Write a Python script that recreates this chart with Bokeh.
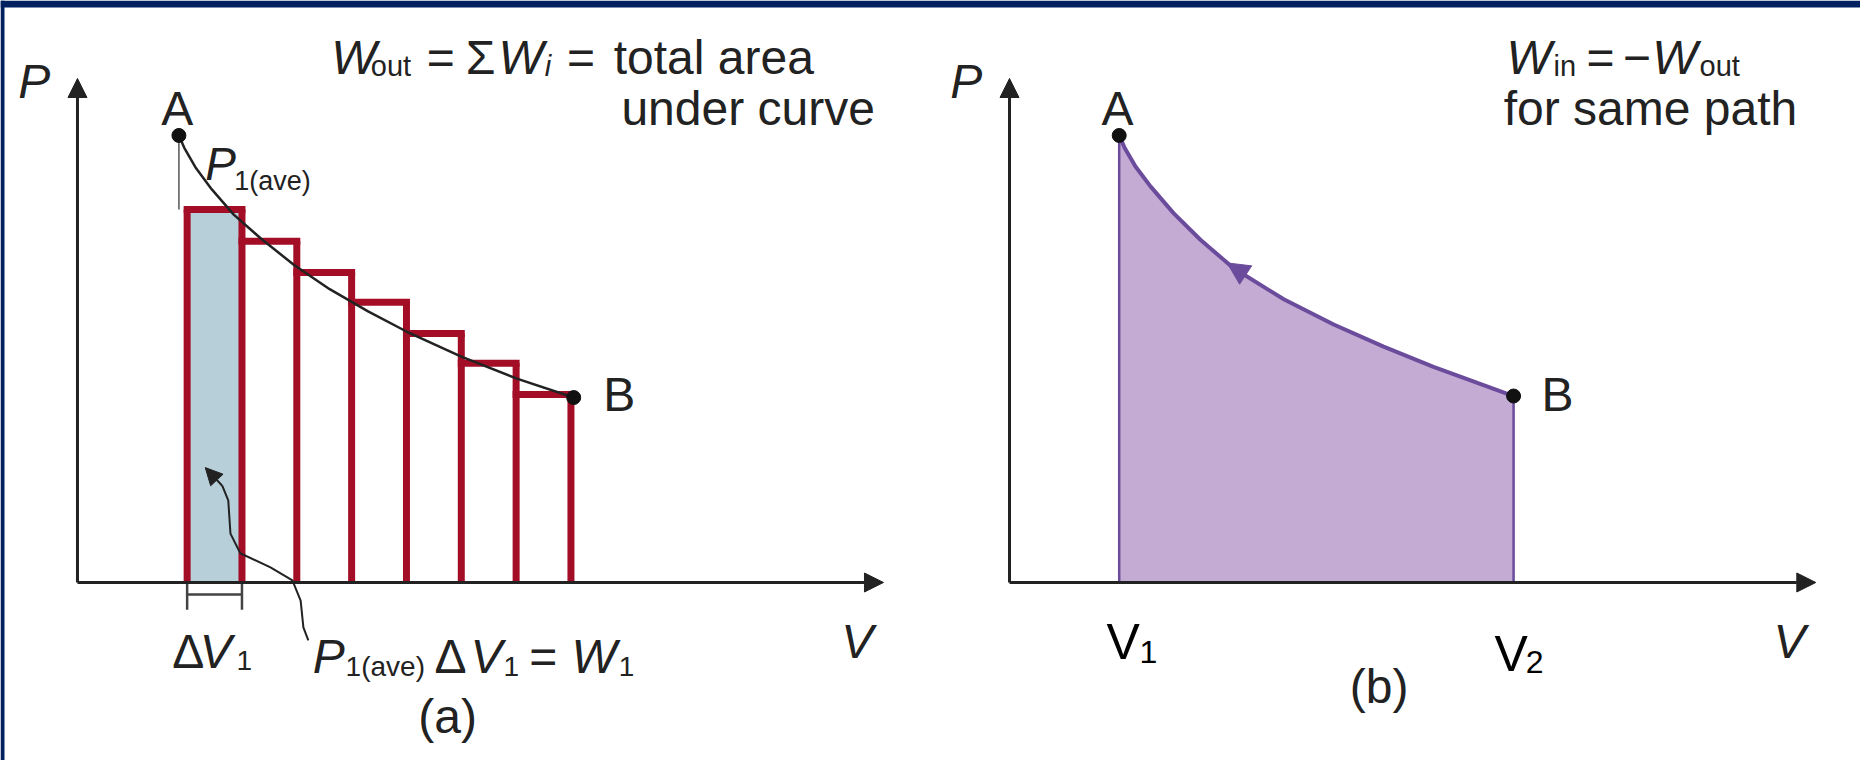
from bokeh.plotting import figure
from bokeh.models import Arrow, NormalHead, Range1d
from bokeh.core.properties import value
from bokeh.embed import file_html
from bokeh.resources import INLINE

# ---------------- data (panel a) ----------------
a_curve_V = [1.85, 1.95, 2.15, 2.45, 2.85, 3.35, 3.95, 4.60, 5.30, 6.00, 7.00, 8.00, 9.05]
a_curve_P = [8.87, 8.62, 8.24, 7.80, 7.30, 6.82, 6.30, 5.82, 5.38, 4.98, 4.48, 4.05, 3.67]
a_edges = [2, 3, 4, 5, 6, 7, 8, 9]
a_tops = [7.40, 6.77, 6.15, 5.56, 4.94, 4.35, 3.73]
a_pointA = (1.85, 8.87)
a_pointB = (9.05, 3.67)
a_pointer_V = [4.21, 4.12, 4.07, 3.92, 3.52, 2.97, 2.79, 2.75, 2.64]
a_pointer_P = [-1.15, -0.89, -0.36, 0.04, 0.30, 0.58, 0.97, 1.63, 1.92]
a_pointer_tip = (2.33, 2.28)

# ---------------- data (panel b) ----------------
b_curve_V = [2.00, 2.10, 2.30, 2.57, 2.99, 3.48, 4.08, 5.00, 5.91, 6.82, 7.73, 8.53, 9.19]
b_curve_P = [8.87, 8.62, 8.25, 7.86, 7.33, 6.80, 6.24, 5.62, 5.12, 4.68, 4.28, 3.96, 3.70]
b_V1 = 2.00
b_V2 = 9.19
b_arrow_from = (4.60, 5.89)
b_arrow_to = (3.97, 6.34)

AXIS_V_END = 14.7
AXIS_P_END = 10.0

# text labels: (text, V, P, size px, italic, align)
a_labels = [
    ("P", -1.08, 9.94, 48, True, "left"),
    ("A", 1.82, 9.40, 48, False, "center"),
    ("B", 9.59, 3.73, 48, False, "left"),
    ("W", 4.63, 10.42, 48, True, "left"),
    ("out", 5.35, 10.24, 29, False, "left"),
    ("=", 6.37, 10.42, 48, False, "left"),
    ("\u03a3", 7.08, 10.42, 48, False, "left"),
    ("W", 7.68, 10.42, 48, True, "left"),
    ("i", 8.52, 10.24, 29, True, "left"),
    ("=", 8.93, 10.42, 48, False, "left"),
    ("total area", 9.78, 10.42, 48, False, "left"),
    ("under curve", 9.92, 9.40, 48, False, "left"),
    ("P", 2.33, 8.31, 46, True, "left"),
    ("1(ave)", 2.86, 7.96, 27, False, "left"),
    ("\u0394", 1.73, -1.37, 48, False, "left"),
    ("V", 2.23, -1.37, 48, True, "left"),
    ("1", 2.90, -1.55, 28, False, "left"),
    ("P", 4.29, -1.47, 48, True, "left"),
    ("1(ave)", 4.89, -1.67, 28, False, "left"),
    ("\u0394", 6.51, -1.47, 48, False, "left"),
    ("V", 7.17, -1.47, 48, True, "left"),
    ("1", 7.77, -1.67, 28, False, "left"),
    ("=", 8.24, -1.47, 48, False, "left"),
    ("W", 9.01, -1.47, 48, True, "left"),
    ("1", 9.87, -1.67, 28, False, "left"),
    ("V", 13.93, -1.17, 48, True, "left"),
    ("(a)", 6.75, -2.66, 48, False, "center"),
]
b_labels = [
    ("P", -1.08, 9.94, 48, True, "left"),
    ("A", 1.97, 9.40, 48, False, "center"),
    ("B", 9.70, 3.73, 48, False, "left"),
    ("W", 9.06, 10.42, 48, True, "left"),
    ("in", 9.92, 10.24, 29, False, "left"),
    ("=", 10.52, 10.42, 48, False, "left"),
    ("\u2212", 11.18, 10.42, 48, False, "left"),
    ("W", 11.72, 10.42, 48, True, "left"),
    ("out", 12.58, 10.24, 29, False, "left"),
    ("for same path", 9.01, 9.40, 48, False, "left"),
    ("V", 13.93, -1.17, 48, True, "left"),
    ("(b)", 6.74, -2.06, 48, False, "center"),
]
b_vlabels = [
    ("V", 1.77, -1.19, 50),
    ("1", 2.37, -1.37, 32),
    ("V", 8.84, -1.41, 50),
    ("2", 9.41, -1.57, 32),
]

FONT = "Liberation Sans"
INK = "#222222"
RED = "#a30d26"
BLUE = "#b7cfd8"
PURPLE_LINE = "#6b4c9c"
PURPLE_FILL = "#c4abd3"
NAVY = "#002060"

Y_RANGE = (-3.532, 11.548)
BAND_P = 11.409           # lower edge of the navy slide band
XA = (-1.404, 32.519)     # panel (a) volume axis across the whole canvas
XB = (-18.396, 15.515)    # panel (b) volume axis across the whole canvas

p = figure(width=1860, height=760, x_range=XA, y_range=Y_RANGE,
           output_backend="svg", toolbar_location=None,
           x_axis_location=None, y_axis_location=None, min_border=0,
           outline_line_color=None, background_fill_color="white",
           border_fill_color="white")
p.extra_x_ranges = {"b": Range1d(*XB)}
p.xgrid.visible = False
p.ygrid.visible = False

# slide frame: navy band on top, thin navy strip on the left
p.quad(left=[XA[0]], right=[XA[1]], bottom=[BAND_P], top=[Y_RANGE[1]],
       fill_color=NAVY, line_color=None)
p.quad(left=[XA[0]], right=[-1.331], bottom=[Y_RANGE[0]], top=[Y_RANGE[1]],
       fill_color=NAVY, line_color=None)


def axes(rn):
    for xe, ye in [(0, AXIS_P_END), (AXIS_V_END, 0)]:
        p.add_layout(Arrow(end=NormalHead(size=19, fill_color=INK, line_color=INK),
                           x_start=0, y_start=0, x_end=xe, y_end=ye,
                           line_width=3, line_color=INK, x_range_name=rn))


def put_labels(labels, rn):
    for txt, x, y, size, italic, align in labels:
        p.text(x=[x], y=[y], text=[txt], text_font=value(FONT),
               text_font_size=f"{size}px",
               text_font_style="italic" if italic else "normal",
               text_align=align, text_baseline="alphabetic", text_color=INK,
               x_range_name=rn)


# ---------------- panel a ----------------
p.quad(left=[a_edges[0]], right=[a_edges[1]], bottom=[0], top=[a_tops[0]],
       fill_color=BLUE, line_color=None)
vert_h = [a_tops[0]] + a_tops
p.segment(x0=a_edges, y0=[0] * len(a_edges), x1=a_edges, y1=vert_h,
          line_color=RED, line_width=7)
p.segment(x0=a_edges[:-1], y0=a_tops, x1=a_edges[1:], y1=a_tops,
          line_color=RED, line_width=7, line_cap="square")
p.segment(x0=[a_pointA[0]], y0=[a_pointA[1]], x1=[a_pointA[0]], y1=[a_tops[0]],
          line_color="#555555", line_width=1.5)
p.line(a_curve_V, a_curve_P, line_color=INK, line_width=2.5)
# delta V bracket
p.segment(x0=[a_edges[0], a_edges[1], a_edges[0]], y0=[0, 0, -0.24],
          x1=[a_edges[0], a_edges[1], a_edges[1]], y1=[-0.54, -0.54, -0.24],
          line_color="#444444", line_width=2.5)
# pointer from the formula to the shaded strip
p.line(a_pointer_V, a_pointer_P, line_color=INK, line_width=2)
p.add_layout(Arrow(end=NormalHead(size=17, fill_color=INK, line_color=INK),
                   x_start=a_pointer_V[-1], y_start=a_pointer_P[-1],
                   x_end=a_pointer_tip[0], y_end=a_pointer_tip[1],
                   line_width=2, line_color=INK))
axes("default")
p.scatter([a_pointA[0], a_pointB[0]], [a_pointA[1], a_pointB[1]], size=14,
          color="#111111")
put_labels(a_labels, "default")

# ---------------- panel b ----------------
p.patch([b_V1] + b_curve_V + [b_V2], [0] + b_curve_P + [0],
        fill_color=PURPLE_FILL, line_color=None, x_range_name="b")
p.segment(x0=[b_V1, b_V2], y0=[0, 0], x1=[b_V1, b_V2],
          y1=[b_curve_P[0], b_curve_P[-1]], line_color=PURPLE_LINE, line_width=2.5,
          x_range_name="b")
p.line(b_curve_V, b_curve_P, line_color=PURPLE_LINE, line_width=4, x_range_name="b")
p.add_layout(Arrow(end=NormalHead(size=22, fill_color=PURPLE_LINE, line_color=PURPLE_LINE),
                   x_start=b_arrow_from[0], y_start=b_arrow_from[1],
                   x_end=b_arrow_to[0], y_end=b_arrow_to[1],
                   line_alpha=0, x_range_name="b"))
axes("b")
p.scatter([b_curve_V[0], b_curve_V[-1]], [b_curve_P[0], b_curve_P[-1]], size=14,
          color="#111111", x_range_name="b")
put_labels(b_labels, "b")
for txt, x, y, size in b_vlabels:
    p.text(x=[x], y=[y], text=[txt], text_font=value(FONT),
           text_font_size=f"{size}px", text_align="left",
           text_baseline="alphabetic", text_color="#000000", x_range_name="b")

open("out.html", "w").write(file_html(p, INLINE))
